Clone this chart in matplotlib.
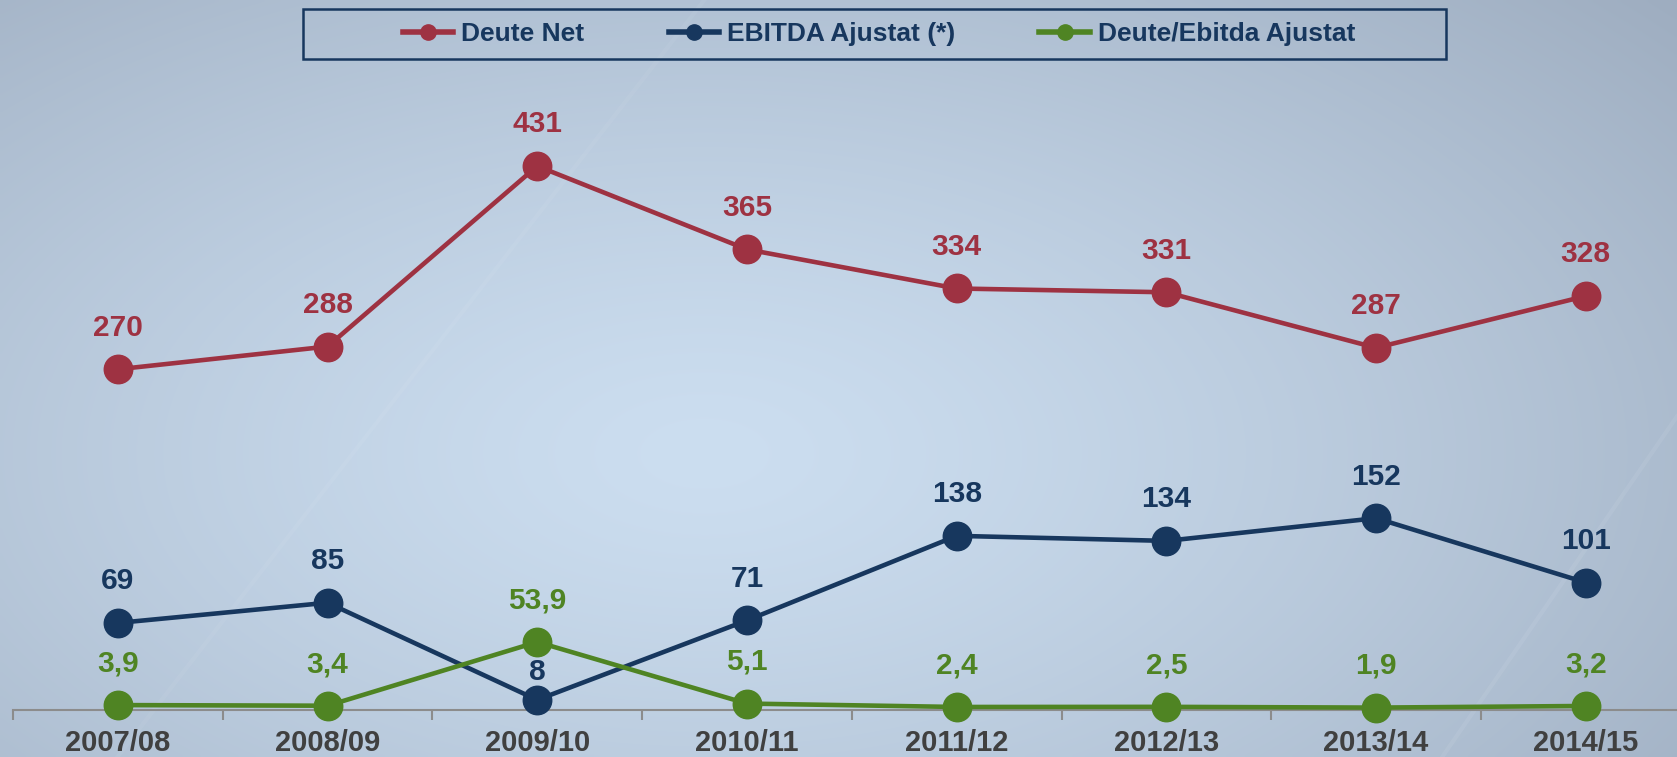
import numpy as np
import matplotlib.pyplot as plt
from matplotlib.lines import Line2D
from matplotlib.patches import Rectangle

plt.rcParams['font.family'] = ['Liberation Sans', 'DejaVu Sans']

# data
seasons = ['2007/08', '2008/09', '2009/10', '2010/11',
           '2011/12', '2012/13', '2013/14', '2014/15']
deute_net = [270, 288, 431, 365, 334, 331, 287, 328]
ebitda = [69, 85, 8, 71, 138, 134, 152, 101]
ratio = [3.9, 3.4, 53.9, 5.1, 2.4, 2.5, 1.9, 3.2]
series_names = ['Deute Net', 'EBITDA Ajustat (*)', 'Deute/Ebitda Ajustat']

RED = '#9E3242'
NAVY = '#17375E'
GREEN = '#4F8423'

W, H = 1677, 757
fig = plt.figure(figsize=(W / 100, H / 100), dpi=100)

# background gradient, light in the middle, darker to the corners
bg = fig.add_axes([0, 0, 1, 1], zorder=0)
yy, xx = np.mgrid[0:1:200j, 0:1:400j]
d = np.sqrt(((xx - 0.42) * 1.2) ** 2 + (yy - 0.6) ** 2)
d = d / d.max()
c0 = np.array([204, 222, 240]) / 255
c1 = np.array([158, 173, 192]) / 255
img = c0 + (c1 - c0) * (d[..., None] ** 1.3)
bg.imshow(img, aspect='auto', interpolation='bilinear', extent=[0, 1, 0, 1], origin='upper')
# faint diagonal streaks
bg.plot([0.07, 0.42], [0.0, 1.0], color='white', alpha=0.05, lw=3)
bg.plot([0.86, 1.0], [0.0, 0.45], color='white', alpha=0.07, lw=3)
bg.set_xlim(0, 1)
bg.set_ylim(0, 1)
bg.axis('off')

# main axes, placed in pixels
px_per_unit = 1.262
ytop = 500
left, base, step = 13, 710, 209.7
ax = fig.add_axes([left / W, (H - base) / H, 8 * step / W, ytop * px_per_unit / H], zorder=1)
ax.patch.set_alpha(0)
ax.set_xlim(-0.5, 7.5)
ax.set_ylim(0, ytop)

x = np.arange(len(seasons))
for vals, col in [(deute_net, RED), (ebitda, NAVY), (ratio, GREEN)]:
    ax.plot(x, vals, color=col, lw=3.3, marker='o', ms=20.5, clip_on=False, zorder=3)
    for i, v in enumerate(vals):
        txt = ('%.1f' % v).replace('.', ',') if isinstance(v, float) else str(v)
        dy = 20 if (col == NAVY and i == 2) else 30  # the "8" sits closer to its dot
        ax.annotate(txt, (i, v), xytext=(0, dy), textcoords='offset points',
                    ha='center', va='center', fontsize=21.5, fontweight='bold',
                    color=col, zorder=5)

for s in ['top', 'right', 'left']:
    ax.spines[s].set_visible(False)
ax.spines['bottom'].set_color('#8C8C8C')
ax.spines['bottom'].set_linewidth(1.5)
ax.set_yticks([])
ax.set_xticks(x)
ax.set_xticklabels(seasons, fontsize=21, fontweight='bold', color='#404040')
ax.tick_params(axis='x', which='major', length=0, pad=14)
ax.set_xticks(np.arange(-0.5, 8, 1), minor=True)
ax.tick_params(axis='x', which='minor', length=7, width=1.5, color='#8C8C8C')

# legend with its own box
fig.add_artist(Rectangle((303 / W, 1 - 59 / H), 1143 / W, 50 / H, transform=fig.transFigure,
                         facecolor='none', edgecolor=NAVY, lw=1.8, zorder=2))
handles = [Line2D([], [], color=c, lw=4, marker='o', ms=11) for c in (RED, NAVY, GREEN)]
fig.legend(handles, series_names, ncol=3, loc='center', bbox_to_anchor=(879 / W, 1 - 34 / H),
           frameon=False, prop=dict(weight='bold', size=19), labelcolor=NAVY,
           handlelength=1.9, handletextpad=0.3, columnspacing=3.2)

fig.savefig('out.png', dpi=100)
